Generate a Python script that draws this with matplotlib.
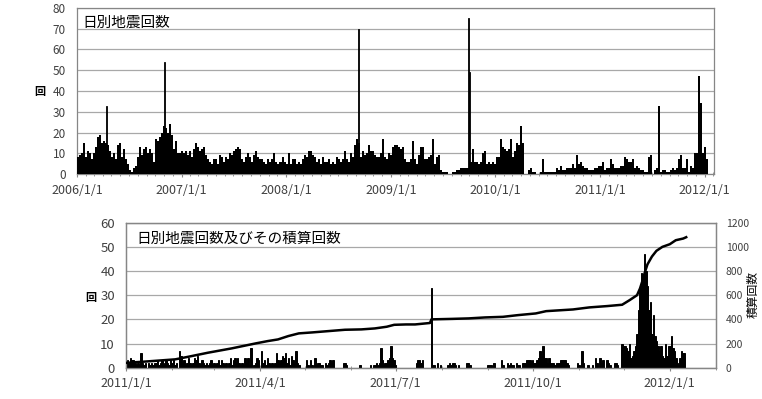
import matplotlib
matplotlib.use('Agg')
import matplotlib.pyplot as plt
import matplotlib.dates as mdates
import matplotlib.ticker as mticker
import numpy as np

plt.rcParams['font.family'] = ['Noto Sans CJK JP', 'DejaVu Sans']

# ---------------- data ----------------
# Top panel: weekly (max daily count per week) from 2006/1/1 to end of 2010
weekly_start = '2006-01-01'
weekly_counts = [
    8, 9, 10, 15, 8, 11, 10, 7, 10, 13,
    18, 19, 15, 16, 15, 14, 11, 8, 10, 7,
    14, 15, 8, 12, 7, 5, 2, 1, 3, 4,
    8, 13, 9, 12, 13, 10, 12, 10, 6, 17,
    16, 18, 20, 23, 22, 20, 24, 19, 12, 16,
    10, 10, 11, 10, 11, 9, 11, 8, 12, 15,
    13, 11, 12, 13, 9, 7, 6, 5, 7, 7,
    5, 9, 8, 6, 8, 7, 10, 9, 11, 12,
    13, 12, 7, 6, 8, 10, 8, 6, 9, 11,
    8, 7, 7, 6, 5, 7, 6, 7, 10, 6,
    5, 6, 8, 6, 5, 10, 5, 7, 7, 5,
    6, 5, 7, 9, 8, 11, 11, 9, 8, 6,
    7, 5, 8, 6, 6, 7, 5, 6, 5, 8,
    7, 6, 7, 11, 7, 6, 10, 8, 14, 17,
    15, 8, 11, 9, 10, 14, 11, 11, 9, 8,
    8, 10, 17, 8, 7, 10, 9, 13, 14, 14,
    13, 12, 13, 7, 6, 6, 7, 16, 7, 5,
    9, 13, 13, 7, 7, 8, 9, 17, 5, 8,
    9, 2, 1, 1, 1, 0, 0, 1, 1, 2,
    2, 3, 3, 3, 3, 3, 6, 12, 6, 6,
    5, 6, 10, 11, 5, 6, 5, 6, 5, 8,
    8, 17, 13, 12, 11, 12, 17, 8, 11, 15,
    14, 23, 15, 0, 0, 2, 3, 1, 1, 0,
    0, 1, 7, 1, 1, 1, 1, 1, 1, 3,
    2, 4, 2, 2, 3, 3, 3, 5, 3, 9,
    5, 6, 4, 3, 3, 2, 2, 2, 3, 3,
    4,
]
# single-day peaks in the top panel
peak_dates = ['2006-04-15', '2006-11-01', '2008-09-09', '2009-09-29', '2009-10-02']
peak_values = [33, 54, 70, 75, 49]

# Daily counts from 2011/1/1
daily_start = '2011-01-01'
daily_counts = [
    # Jan
    2, 3, 2, 4, 3, 3, 2, 1, 2, 1, 6, 2, 1, 2, 0, 2, 1, 2, 1, 2, 2, 3, 1, 2, 3, 1, 2, 3, 2, 1, 3,
    # Feb
    2, 3, 1, 2, 0, 7, 5, 2, 3, 1, 2, 4, 2, 1, 2, 4, 3, 5, 2, 1, 3, 2, 1, 2, 1, 2, 3, 1,
    # Mar
    2, 1, 2, 3, 1, 3, 2, 1, 2, 0, 2, 4, 1, 3, 4, 2, 4, 2, 1, 2, 1, 4, 2, 4, 1, 8, 0, 1, 2, 4, 3,
    # Apr
    0, 7, 2, 3, 1, 4, 2, 1, 2, 1, 2, 6, 3, 2, 3, 5, 4, 6, 2, 4, 1, 5, 3, 2, 7, 2, 1, 0, 0, 0,
    # May
    0, 3, 1, 0, 3, 1, 0, 4, 1, 2, 2, 1, 1, 0, 2, 1, 2, 3, 2, 3, 0, 0, 0, 0, 0, 0, 2, 2, 1, 0, 0,
    # Jun
    0, 0, 0, 0, 0, 0, 1, 0, 0, 0, 0, 0, 0, 1, 0, 1, 1, 2, 1, 2, 8, 3, 1, 2, 2, 3, 4, 9, 4, 3,
    # Jul
    1, 0, 0, 0, 0, 0, 0, 0, 0, 0, 0, 0, 0, 0, 2, 3, 3, 2, 3, 0, 0, 0, 0, 0, 33, 1, 1, 0, 2, 0, 1,
    # Aug
    0, 0, 0, 0, 1, 2, 1, 2, 2, 1, 0, 1, 0, 0, 0, 0, 0, 2, 2, 1, 0, 0, 0, 0, 0, 0, 0, 0, 0, 0, 0,
    # Sep
    1, 1, 1, 0, 2, 0, 0, 0, 0, 3, 1, 0, 0, 2, 1, 2, 1, 1, 0, 2, 1, 1, 0, 2, 2, 2, 3, 3, 3, 2,
    # Oct
    3, 2, 2, 3, 4, 7, 5, 9, 4, 4, 2, 4, 2, 2, 2, 1, 2, 2, 2, 3, 3, 3, 3, 2, 1, 0, 0, 0, 0, 0, 2,
    # Nov
    1, 0, 7, 2, 0, 0, 1, 0, 0, 1, 0, 4, 2, 0, 4, 2, 3, 0, 0, 3, 2, 1, 0, 0, 2, 2, 1, 0, 0, 10,
    # Dec
    9, 9, 8, 7, 10, 4, 5, 7, 9, 14, 24, 33, 39, 38, 47, 40, 34, 24, 27, 14, 22, 13, 11, 9, 7, 9, 5, 4, 10, 5, 9,
    # Jan 2012
    9, 13, 8, 7, 4, 2, 1, 4, 7, 6, 6,
]

# Cumulative count line (day offset from 2011/1/1, value)
cum_days = [0, 12, 33, 42, 55, 71, 87, 95, 102, 109, 116, 125, 136, 147, 158, 167,
            175, 180, 188, 194, 204, 205, 219, 230, 241, 253, 263, 275, 282, 300,
            311, 323, 333, 338, 343, 345, 346, 347, 348, 350, 353, 356, 360, 365,
            369, 374, 376]
cum_values = [40, 50, 69, 91, 124, 160, 201, 220, 234, 262, 284, 292, 303, 314, 317, 325,
              339, 355, 358, 358, 370, 400, 404, 408, 416, 421, 435, 449, 468, 482,
              499, 510, 521, 559, 600, 656, 695, 733, 780, 855, 920, 967, 1000, 1022,
              1055, 1069, 1080]

top_title = '日別地震回数'
bottom_title = '日別地震回数及びその積算回数'

# ---------------- drawing ----------------
W, H = 762, 399
fig = plt.figure(figsize=(W / 100, H / 100), dpi=100)
ax1 = fig.add_axes([77 / W, 1 - 174 / H, (714 - 77) / W, (174 - 8) / H])
ax2 = fig.add_axes([126 / W, 1 - 367.7 / H, (716 - 126) / W, (367.7 - 222.7) / H])

axis_col = '#868686'
grid_col = '#a8a8a8'
txt_col = '#404040'


def datefmt(x, pos=None):
    d = mdates.num2date(x)
    return f'{d.year}/{d.month}/{d.day}'


# top panel
wk_dates = np.datetime64(weekly_start) + 7 * np.arange(len(weekly_counts))
ax1.bar(wk_dates, weekly_counts, width=7, align='edge', color='black', linewidth=0, zorder=3)
daily = np.array(daily_counts)
nwk = int(np.ceil(len(daily) / 7))
padded = np.zeros(nwk * 7, dtype=int)
padded[:len(daily)] = daily
wk2011 = padded.reshape(nwk, 7).max(axis=1)
wk2011_dates = np.datetime64(daily_start) + 7 * np.arange(nwk)
ax1.bar(wk2011_dates, wk2011, width=7, align='edge', color='black', linewidth=0, zorder=3)
ax1.bar(np.array(peak_dates, dtype='datetime64[D]'), peak_values, width=3,
        color='black', edgecolor='black', linewidth=0.6, zorder=4)
ax1.set_xlim(np.datetime64('2006-01-01'), np.datetime64('2012-02-03'))
ax1.set_ylim(0, 80)
ax1.set_yticks(range(0, 81, 10))
ax1.xaxis.set_major_locator(mdates.YearLocator())
ax1.xaxis.set_minor_locator(mdates.MonthLocator())
ax1.xaxis.set_major_formatter(mticker.FuncFormatter(datefmt))
ax1.text(0.008, 0.955, top_title, transform=ax1.transAxes, fontsize=10.5,
         ha='left', va='top', color='black', zorder=5)

# bottom panel
d_dates = np.datetime64(daily_start) + np.arange(len(daily_counts))
ax2.bar(d_dates, daily_counts, width=1.0, align='center', color='black',
        edgecolor='black', linewidth=0.7, zorder=3)
ax2.set_xlim(np.datetime64('2011-01-01'), np.datetime64('2012-02-01'))
ax2.set_ylim(0, 60)
ax2.set_yticks(range(0, 61, 10))
ax2.xaxis.set_major_locator(mdates.MonthLocator(bymonth=[1, 4, 7, 10]))
ax2.xaxis.set_minor_locator(mdates.MonthLocator())
ax2.xaxis.set_major_formatter(mticker.FuncFormatter(datefmt))
ax2.text(0.017, 0.935, bottom_title, transform=ax2.transAxes, fontsize=10.5,
         ha='left', va='top', color='black', zorder=5)

ax2r = ax2.twinx()
ax2r.plot(np.datetime64(daily_start) + np.array(cum_days), cum_values,
          color='black', lw=1.8, zorder=4)
ax2r.set_ylim(0, 1200)
ax2r.set_yticks(range(0, 1201, 200))
ax2r.tick_params(axis='y', length=0, pad=7, labelsize=7.5, labelcolor=txt_col)

for ax in (ax1, ax2):
    ax.set_axisbelow(True)
    ax.yaxis.grid(True, color=grid_col, lw=0.9)
    ax.tick_params(axis='y', length=0, pad=8, labelcolor=txt_col)
    ax.tick_params(axis='x', which='major', length=4, direction='inout',
                   color=axis_col, pad=5, labelsize=9, labelcolor=txt_col)
    ax.tick_params(axis='x', which='minor', length=3, direction='inout', color=axis_col)
for ax in (ax1, ax2, ax2r):
    for s in ax.spines.values():
        s.set_color(axis_col)
        s.set_linewidth(0.9)
ax1.tick_params(axis='y', labelsize=8.5)
ax2.tick_params(axis='y', labelsize=9.5)

fig.text(40 / W, 1 - 91 / H, '回', fontsize=8, ha='center', va='center',
         color='black', fontweight='bold')
fig.text(91 / W, 1 - 297 / H, '回', fontsize=8, ha='center', va='center',
         color='black', fontweight='bold')
fig.text(753 / W, 1 - 295 / H, '積算回数', fontsize=8.5, rotation=90,
         ha='center', va='center', color='black')

fig.savefig('out.png', dpi=100)
